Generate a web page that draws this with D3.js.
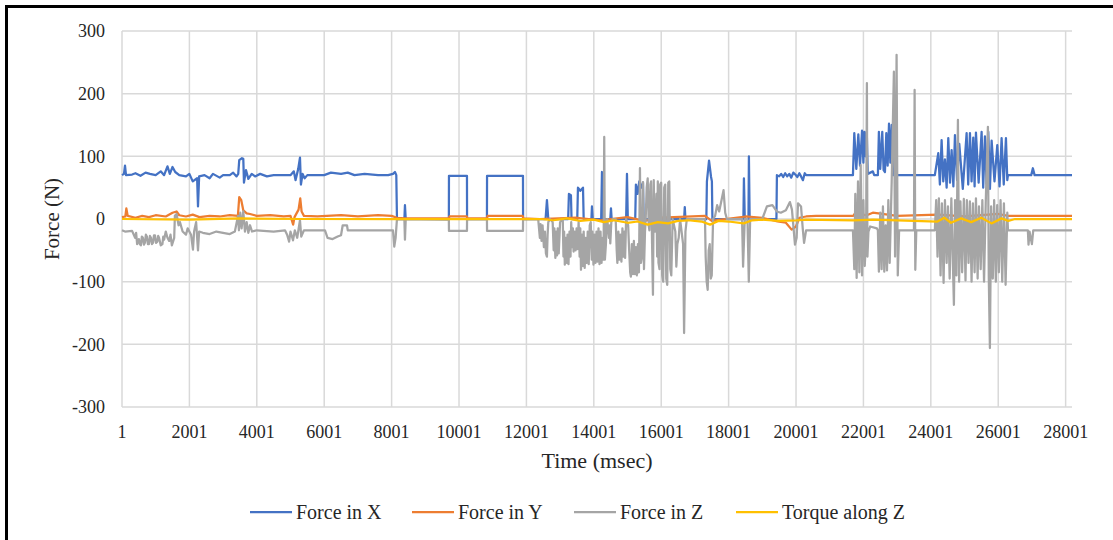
<!DOCTYPE html>
<html>
<head>
<meta charset="utf-8">
<title>Force and torque</title>
<script src="https://d3js.org/d3.v7.min.js"></script>
<style>
  body { margin: 0; background: #fff; }
</style>
</head>
<body>
<svg id="chart" width="1113" height="540"></svg>
<script>
// tick labels
var xTicks = [1, 2001, 4001, 6001, 8001, 10001, 12001, 14001, 16001, 18001, 20001, 22001, 24001, 26001, 28001];
var yTicks = [-300, -200, -100, 0, 100, 200, 300];
var seriesNames = ["Force in X", "Force in Y", "Force in Z", "Torque along Z"];
var seriesColors = ["#4472C4", "#ED7D31", "#A5A5A5", "#FFC000"];

// [time msec, value]
var forceX = [
  [1,70],[60,72],[90,85],[120,70],[300,71],[400,73],[550,69],[700,74],[830,72],[1000,70],[1150,76],[1250,70],[1350,84],[1420,72],[1500,83],[1580,75],[1700,70],[1900,68],[2000,72],[2100,60],[2230,65],[2256,20],[2290,68],[2450,70],[2600,65],[2700,72],[2900,66],[3000,70],[3200,70],[3300,74],[3400,68],[3450,72],[3480,94],[3560,97],[3600,96],[3620,58],[3680,78],[3750,64],[3850,72],[3950,68],[4100,72],[4300,68],[4500,70],[5000,70],[5100,76],[5150,62],[5230,80],[5282,98],[5310,55],[5360,72],[5420,65],[5500,70],[6000,70],[6200,74],[6500,72],[6700,74],[6900,70],[7200,72],[7600,70],[7900,70],[8042,72],[8100,75],[8140,70],[8160,0],[8380,0],[8397,22],[8420,0],[9700,0],[9703,69],[10237,69],[10240,0],[10830,0],[10833,69],[11899,69],[11902,0],
  [12570,0],[12610,30],[12650,0],[13240,0],[13262,40],[13322,38],[13340,0],[13510,0],[13530,50],[13600,45],[13680,50],[13700,0],[13930,0],[13946,20],[13970,0],[14220,0],[14243,75],[14270,0],[14490,0],[14510,17],[14530,0],[14960,0],[14985,72],[15010,0],[15230,0],[15250,55],[15300,40],[15350,60],[15410,50],[15460,58],[15480,0],[15880,0],[15900,17],[15920,0],[16680,0],[16700,19],[16720,0],[17340,0],[17357,60],[17420,93],[17480,67],[17505,60],[17520,0],[18440,0],[18455,65],[18480,0],[18590,0],[18603,100],[18625,0],[19420,0],[19434,70],
  [19500,68],[19560,72],[19620,67],[19680,73],[19740,68],[19800,72],[19860,66],[19920,74],[19980,71],[20040,67],[20100,73],[20150,68],[20206,62],[20260,73],[20300,70],[21690,70],
  [21730,137],[21790,80],[21850,135],[21900,85],[21960,141],[22000,90],[22030,139],[22070,100],[22100,139],[22130,72],[22282,76],[22320,70],[22430,70],[22460,139],[22500,80],[22560,139],[22600,78],[22640,75],[22680,137],[22720,85],[22760,152],[22800,90],[22840,150],[22880,70],[24120,70],
  [24222,105],[24270,55],[24321,126],[24370,60],[24420,95],[24470,50],[24519,129],[24570,58],[24618,110],[24670,52],[24717,134],[24780,62],[24845,120],[24950,48],[25063,137],[25110,55],[25162,137],[25210,60],[25260,130],[25300,52],[25340,138],[25420,58],[25508,139],[25555,50],[25607,132],[25655,56],[25706,139],[25755,48],[25805,125],[25890,60],[25973,118],[26040,52],[26101,129],[26165,55],[26230,129],[26270,62],[26290,70],[26980,70],[27029,81],[27080,70],[28190,70]
];

var forceY = [
  [1,3],[100,4],[130,17],[170,5],[400,2],[600,5],[800,3],[1000,6],[1300,4],[1500,10],[1620,12],[1700,6],[1900,4],[2100,7],[2300,3],[2600,5],[2900,4],[3200,6],[3440,5],[3480,35],[3540,30],[3600,14],[3700,9],[3800,8],[4000,5],[4400,6],[4800,4],[5000,5],[5080,-9],[5120,3],[5240,15],[5290,33],[5330,12],[5400,5],[5800,4],[6500,6],[7000,4],[7600,6],[8000,5],[8160,2],[8400,1],[9700,1],[9720,4],[10230,4],[10250,1],[10830,1],[10850,5],[11890,5],[11910,1],[12400,0],
  [13500,2],[14200,-2],[15000,3],[15500,-3],[16000,2],[17300,5],[17500,-3],[18500,4],[19000,2],[19450,-4],[19700,-6],[19870,-17],[20000,-12],[20100,2],[20300,4],[20600,5],[21700,5],[21750,9],[22100,6],[22280,10],[23000,5],[24200,7],[25000,4],[26000,8],[26300,5],[28190,5]
];

var forceZ = [
  [1,-18],[90,-20],[300,-19],[390,-30],[420,-22],[450,-40],[500,-32],[530,-40],[560,-42],[590,-28],[620,-30],[650,-41],[680,-38],[710,-25],[740,-28],[770,-40],[800,-40],[830,-27],[860,-30],[890,-40],[920,-38],[950,-26],[980,-26],[1010,-38],[1050,-36],[1075,-27],[1100,-30],[1150,-42],[1200,-40],[1225,-28],[1250,-33],[1300,-20],[1350,-30],[1400,-35],[1440,-25],[1480,-42],[1550,-30],[1570,5],[1620,8],[1680,-10],[1720,-5],[1800,-20],[1900,-25],[1950,-15],[2050,-25],[2107,-49],[2140,-20],[2200,-5],[2256,-50],[2290,-20],[2400,-22],[2600,-24],[2800,-20],[3000,-22],[3200,-24],[3350,-20],[3443,5],[3470,-18],[3510,10],[3550,-15],[3600,12],[3650,-20],[3700,-5],[3750,-22],[3800,-10],[3860,-20],[4000,-18],[4500,-20],[4837,-18],[4900,-25],[4960,-36],[5000,-20],[5075,-34],[5130,-18],[5200,-30],[5282,-2],[5320,-28],[5400,-18],[6024,-18],[6100,-30],[6250,-32],[6400,-28],[6500,-26],[6550,-10],[6677,-10],[6700,-18],[8042,-18],[8080,-44],[8120,-30],[8160,0],[8380,0],[8397,-33],[8420,0],[9700,-1],[9703,-19],[10237,-19],[10240,0],[10830,0],[10833,-19],[11899,-19],[11902,0],[12350,0],
  [12400,-30],[12420,-8],[12450,-35],[12480,-10],[12520,-45],[12550,-20],[12580,-55],[12610,-60],[12630,-25],[12650,-5],[12700,0],[12780,-5],[12810,-50],[12830,-15],[12860,-62],[12880,-20],[12910,-58],[12930,-15],[12960,-55],[13000,-5],[13080,0],[13100,-60],[13120,-20],[13140,-73],[13170,-30],[13200,-70],[13220,-25],[13250,-72],[13280,-20],[13310,-60],[13330,-5],[13360,-45],[13380,-15],[13400,-52],[13430,-20],[13460,-50],[13490,-15],[13520,-48],[13550,-5],[13580,-60],[13600,-15],[13620,-81],[13650,-25],[13680,-75],[13700,-20],[13730,-78],[13760,-30],[13790,-70],[13820,-20],[13850,-72],[13880,-10],[13910,-5],[13940,-65],[13960,-20],[13990,-73],[14020,-25],[14050,-70],[14080,-20],[14110,-68],[14140,-15],[14170,-72],[14200,-20],[14230,-70],[14260,-30],[14290,-65],[14310,131],[14330,-65],[14360,-40],[14380,-10],[14400,0],[14450,-30],[14470,-10],[14490,-39],[14520,-5],[14560,0],
  [14650,0],[14680,-50],[14700,-70],[14730,-20],[14760,-65],[14790,-25],[14820,-68],[14850,-15],[14880,-60],[14910,-20],[14930,-62],[14960,0],[15020,-10],[15050,-50],[15080,-85],[15100,-92],[15130,-40],[15160,-88],[15190,-35],[15220,-88],[15250,-45],[15280,-90],[15310,-40],[15340,-85],[15370,81],[15400,-70],[15430,-60],[15460,59],[15490,-80],[15520,-20],[15540,0],[15570,50],[15600,65],[15630,-10],[15650,-18],[15680,55],[15700,60],[15730,-40],[15756,-121],[15780,62],[15800,-15],[15820,-20],[15860,40],[15880,-60],[15900,60],[15920,-70],[15950,-80],[15970,55],[16000,58],[16030,-90],[16060,-100],[16090,50],[16120,55],[16150,-95],[16180,-105],[16210,58],[16240,60],[16270,-80],[16300,-90],[16340,0],[16420,-20],[16450,-76],[16480,-40],[16520,-30],[16560,0],[16650,-40],[16680,-182],[16720,-20],[16760,0],
  [17300,0],[17320,-60],[17350,-100],[17380,-113],[17410,-50],[17440,-40],[17470,-95],[17500,-90],[17540,0],[17600,5],[17660,22],[17720,12],[17790,30],[17850,46],[17900,10],[17950,0],[18400,0],[18430,-76],[18480,0],[18560,0],[18600,-100],[18640,0],[19000,0],[19137,20],[19300,22],[19430,12],[19550,10],[19700,14],[19820,27],[19880,15],[19970,-41],[20020,-30],[20060,25],[20150,20],[20200,-15],[20240,-38],[20300,-18],
  [21690,-18],[21730,-80],[21760,40],[21800,-94],[21840,60],[21880,-85],[21920,86],[21960,-90],[22000,30],[22040,-75],[22080,-30],[22104,217],[22120,-60],[22150,-20],[22200,-12],[22400,-15],[22430,-18],[22460,-84],[22500,10],[22540,-80],[22580,20],[22620,-84],[22660,-10],[22700,-82],[22740,30],[22780,-70],[22840,60],[22905,235],[22940,-60],[22985,262],[23020,-90],[23060,-18],[23500,-18],[23520,206],[23540,-81],[23570,-18],
  [24120,-18],[24160,30],[24200,-60],[24240,33],[24290,-90],[24330,25],[24380,-102],[24420,30],[24470,-70],[24510,20],[24560,-95],[24610,33],[24660,-80],[24686,-137],[24720,30],[24760,-90],[24805,158],[24840,-100],[24880,28],[24930,-85],[24980,32],[25030,-98],[25070,30],[25120,-70],[25160,28],[25210,-100],[25250,25],[25300,-85],[25340,33],[25390,-95],[25430,20],[25480,-80],[25530,30],[25580,-100],[25630,25],[25695,147],[25720,-90],[25754,-206],[25790,20],[25840,-95],[25880,30],[25930,-100],[25970,22],[26020,-85],[26070,30],[26120,-100],[26170,25],[26220,-105],[26270,10],[26290,-18],
  [26880,-18],[26900,-41],[26930,-20],[27000,-40],[27040,-18],[28190,-18]
];

var torqueZ = [
  [1,0],[2000,-1],[3500,1],[5300,0],[8160,0],[12400,0],[12800,-2],[13200,1],[13600,-3],[14000,-1],[14300,-5],[14600,-2],[15000,-6],[15300,-4],[15600,-9],[15900,-5],[16200,-7],[16500,-3],[16800,-2],[17200,-4],[17450,-9],[17700,-3],[18000,-4],[18450,-7],[18700,-2],[19000,-1],[19500,-3],[20000,-2],[20300,-1],[21700,-2],[22300,-1],[24200,-4],[24400,2],[24600,-6],[24900,1],[25200,-5],[25500,2],[25800,-7],[26100,1],[26300,-3],[26500,0],[28190,0]
];

var allSeries = [forceX, forceY, forceZ, torqueZ];

var svg = d3.select("#chart");
svg.append("rect").attr("width", 1113).attr("height", 540).attr("fill", "#fff");
// outer frame (cut off at right and bottom in the picture)
svg.append("rect").attr("x", 6.5).attr("y", 6.5).attr("width", 1200).attr("height", 600)
  .attr("fill", "none").attr("stroke", "#000").attr("stroke-width", 3);

var x = d3.scaleLinear().domain([1, 28190]).range([122, 1072]);
var y = d3.scaleLinear().domain([-300, 300]).range([407, 31]);

// gridlines
svg.append("g").selectAll("line").data(yTicks).join("line")
  .attr("x1", 122).attr("x2", 1072)
  .attr("y1", d => y(d)).attr("y2", d => y(d))
  .attr("stroke", "#d9d9d9").attr("stroke-width", 1.5);
svg.append("g").selectAll("line").data(xTicks).join("line")
  .attr("x1", d => x(d)).attr("x2", d => x(d))
  .attr("y1", y(300)).attr("y2", y(-300))
  .attr("stroke", "#d9d9d9").attr("stroke-width", 1.5);

var textColor = "#262626";
var serif = "Liberation Serif, DejaVu Serif, serif";

// tick labels
svg.append("g").selectAll("text").data(yTicks).join("text")
  .attr("x", 105).attr("y", d => y(d)).attr("dy", "0.35em")
  .attr("text-anchor", "end").attr("font-size", 18)
  .attr("font-family", serif).attr("fill", textColor)
  .text(d => d);
svg.append("g").selectAll("text").data(xTicks).join("text")
  .attr("x", d => x(d)).attr("y", 432).attr("dy", "0.35em")
  .attr("text-anchor", "middle").attr("font-size", 18)
  .attr("font-family", serif).attr("fill", textColor)
  .text(d => d);

// axis titles
svg.append("text").attr("transform", "translate(52,219) rotate(-90)")
  .attr("text-anchor", "middle").attr("dy", "0.35em").attr("font-size", 21)
  .attr("font-family", serif).attr("fill", textColor).text("Force (N)");
svg.append("text").attr("x", 597).attr("y", 460).attr("dy", "0.35em")
  .attr("text-anchor", "middle").attr("font-size", 22)
  .attr("font-family", serif).attr("fill", textColor).text("Time (msec)");

// series
var line = d3.line().x(d => x(d[0])).y(d => y(d[1]));
svg.append("g").selectAll("path").data(allSeries).join("path")
  .attr("d", line)
  .attr("fill", "none")
  .attr("stroke", (d, i) => seriesColors[i])
  .attr("stroke-width", 2.25)
  .attr("stroke-linejoin", "round");

// legend
var legendX = [250, 412, 574, 736];
var leg = svg.append("g").selectAll("g").data(seriesNames).join("g")
  .attr("transform", (d, i) => "translate(" + legendX[i] + ",512)");
leg.append("line").attr("x1", 0).attr("x2", 42)
  .attr("stroke", (d, i) => seriesColors[i]).attr("stroke-width", 2.25);
leg.append("text").attr("x", 46).attr("dy", "0.35em").attr("font-size", 20)
  .attr("font-family", serif).attr("fill", textColor).text(d => d);
</script>
</body>
</html>
